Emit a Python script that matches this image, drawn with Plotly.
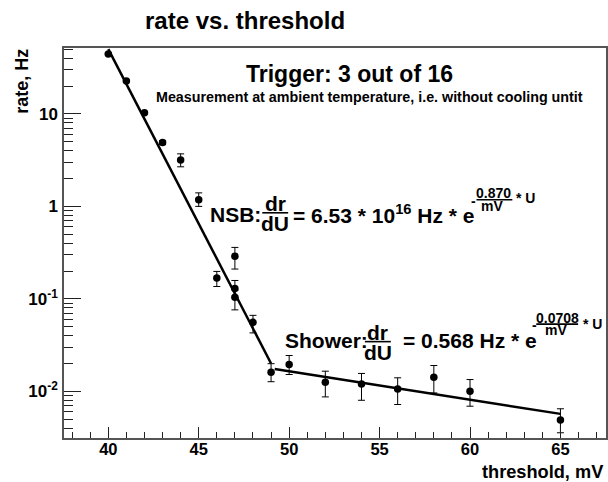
import numpy as np
import plotly.graph_objects as go

# ---- data ----
threshold_mV = [40, 41, 42, 43, 44, 45, 46, 47, 47, 47, 48, 49, 50, 52, 54, 56, 58, 60, 65]
rate_Hz = [44.5, 22.7, 10.3, 4.9, 3.18, 1.18, 0.168, 0.288, 0.129, 0.104, 0.0557,
           0.0161, 0.0195, 0.0125, 0.0120, 0.0106, 0.0142, 0.0100, 0.00488]
rate_err_up = [0.5, 0.3, 0.2, 0.25, 0.52, 0.22, 0.030, 0.072, 0.029, 0.021, 0.0106,
               0.0038, 0.0049, 0.0040, 0.0036, 0.0034, 0.0048, 0.0034, 0.00159]
rate_err_down = [0.5, 0.3, 0.2, 0.25, 0.50, 0.18, 0.032, 0.078, 0.025, 0.028, 0.0129,
                 0.0034, 0.0043, 0.0038, 0.0040, 0.0034, 0.0046, 0.0031, 0.00132]

# fit results as printed on the chart
nsb_A, nsb_k = 6.53e16, 0.870
nsb_range = [40, 49]
shower_A, shower_k = 0.568, 0.0708
shower_range = [49.2, 65]

y_tickvals = [0.01, 0.1, 1, 10]
y_ticktext = ["10<sup>-2</sup>", "10<sup>-1</sup>", "1", "10"]
y_minor = [m * 10.0 ** e for e in (-3, -2, -1, 0, 1) for m in range(2, 10)]
x_tickvals = [40, 45, 50, 55, 60, 65]

# ---- layout geometry (pixels) ----
W, H = 608, 482
L, R, T, B = 64, 608, 48, 438.5


def px(x):
    return (x - L) / (R - L)


def py(y):
    return (B - y) / (B - T)


FONT = "Liberation Sans"

fig = go.Figure()

nsb_x = np.array(nsb_range, dtype=float)
fig.add_trace(go.Scatter(x=nsb_x, y=nsb_A * np.exp(-nsb_k * nsb_x), mode="lines",
                         line=dict(color="black", width=2.5), hoverinfo="skip"))
sh_x = np.array(shower_range, dtype=float)
fig.add_trace(go.Scatter(x=sh_x, y=shower_A * np.exp(-shower_k * sh_x), mode="lines",
                         line=dict(color="black", width=2.5), hoverinfo="skip"))

fig.add_trace(go.Scatter(
    x=threshold_mV, y=rate_Hz, mode="markers",
    marker=dict(color="black", size=7.5),
    error_y=dict(type="data", symmetric=False, array=rate_err_up,
                 arrayminus=rate_err_down, color="black", thickness=1, width=3.5),
))

anns = []


def txt(s, x, y, size, xanchor="center", yanchor="middle"):
    anns.append(dict(text=s, x=px(x), y=py(y), xref="paper", yref="paper",
                     showarrow=False, xanchor=xanchor, yanchor=yanchor,
                     font=dict(family=FONT, size=size, color="black", weight="bold")))


shapes = []


def bar(x0, x1, y):
    shapes.append(dict(type="line", xref="paper", yref="paper",
                       x0=px(x0), x1=px(x1), y0=py(y), y1=py(y),
                       line=dict(color="black", width=1.6)))


# titles
txt("rate vs. threshold", 246, 20, 24)
txt("Trigger: 3 out of 16", 351, 74, 23)
txt("Measurement at ambient temperature, i.e. without cooling untit", 371, 97, 14.3)
txt("threshold, mV", 607, 473, 18.2, xanchor="right")
anns.append(dict(text="rate, Hz", x=px(21), y=py(47), xref="paper", yref="paper",
                 showarrow=False, textangle=-90, xanchor="center", yanchor="top",
                 font=dict(family=FONT, size=18, color="black", weight="bold")))

# NSB formula
txt("NSB:", 209, 215, 21, xanchor="left")
txt("dr", 276, 203.5, 21)
bar(263, 289, 213)
txt("dU", 276, 223.5, 21)
txt("= 6.53 * 10<sup>16</sup> Hz * e", 292, 214, 21, xanchor="left")
txt("-", 475, 201, 14)
txt("0.870", 495, 193, 14)
bar(478, 514, 200)
txt("mV", 494, 206.5, 14)
txt("* U", 516, 198, 14, xanchor="left")

# Shower formula
txt("Shower:", 284, 340.5, 21, xanchor="left")
txt("dr", 379, 332.5, 21)
bar(366, 392, 342)
txt("dU", 379, 352.5, 21)
txt("= 0.568 Hz * e", 402, 340.5, 21, xanchor="left")
txt("-", 536, 325, 14)
txt("0.0708", 559, 318.5, 14)
bar(538, 580, 324.5)
txt("mV", 558, 330.5, 14)
txt("* U", 583, 324, 14, xanchor="left")

axis_line = dict(showline=True, linecolor="#555", linewidth=1.5, mirror=True,
                 showgrid=False, zeroline=False)

fig.update_layout(
    width=W, height=H,
    margin=dict(l=L, r=W - R, t=T, b=H - B, pad=0),
    paper_bgcolor="white", plot_bgcolor="white",
    showlegend=False,
    annotations=anns, shapes=shapes,
    xaxis=dict(range=[37.55, 67.52], tickmode="array", tickvals=x_tickvals,
               ticks="inside", ticklen=11, tickwidth=1.2, tickcolor="#222",
               minor=dict(dtick=1, tick0=0, ticks="inside", ticklen=6,
                          tickwidth=1.2, tickcolor="#222", showgrid=False),
               ticklabelstandoff=-5,
               tickfont=dict(family=FONT, size=16.5, color="black", weight="bold"),
               **axis_line),
    yaxis=dict(type="log", range=[-2.505, 1.713], tickmode="array",
               tickvals=y_tickvals, ticktext=y_ticktext,
               ticks="inside", ticklen=17, tickwidth=1.2, tickcolor="#222",
               minor=dict(tickmode="array", tickvals=y_minor, ticks="inside",
                          ticklen=9, tickwidth=1.2, tickcolor="#222", showgrid=False),
               ticklabelstandoff=1,
               tickfont=dict(family=FONT, size=17, color="black", weight="bold"),
               **axis_line),
)

fig.write_html("out.html")
